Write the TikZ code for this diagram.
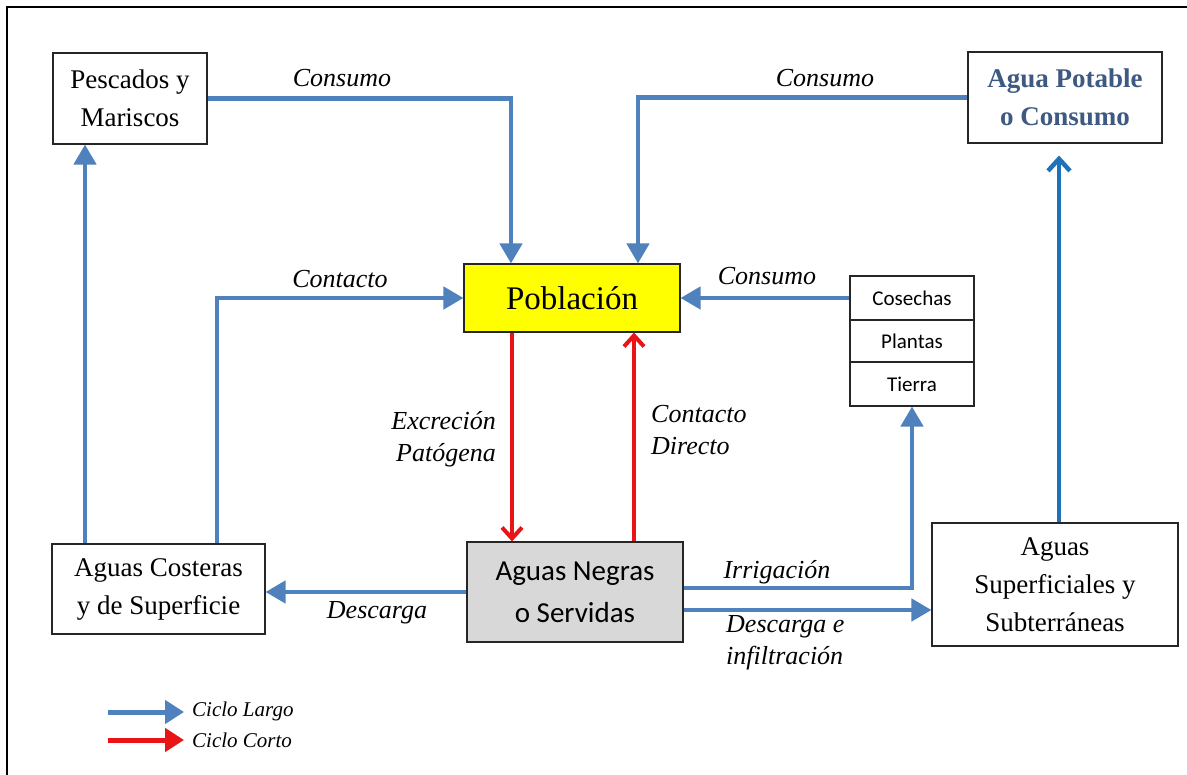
\documentclass[tikz,border=0pt]{standalone}
\usepackage{fontspec}
\setmainfont{Liberation Serif}
\newfontfamily\calib{Carlito}
\usetikzlibrary{arrows.meta}
\definecolor{lblue}{RGB}{79,129,189}
\definecolor{dblue}{RGB}{31,114,184}
\definecolor{cred}{RGB}{232,20,22}
\definecolor{ptxt}{RGB}{63,90,130}
\definecolor{ngray}{RGB}{216,216,216}
\definecolor{pyel}{RGB}{255,255,0}
\begin{document}
\begin{tikzpicture}[x=1pt,y=-1pt,
  box/.style={draw=black!85, line width=1.1pt, fill=white, align=center, inner sep=0pt,
              font=\fontsize{27}{38}\selectfont},
  cbox/.style={box, font=\calib\fontsize{21}{24}\selectfont},
  lab/.style={inner sep=0pt, font=\fontsize{26}{32}\selectfont\itshape},
  leglab/.style={inner sep=0pt, anchor=west, font=\fontsize{21}{24}\selectfont\itshape},
  bl/.style={draw=lblue, line width=4.5pt, -{Triangle[width=22pt,length=20pt]}},
  dbl/.style={draw=dblue, line width=4.5pt, -{Straight Barb[width=22pt,length=12pt]}},
  rd/.style={draw=cred, line width=4pt, -{Straight Barb[width=20pt,length=11pt]}},
  legb/.style={draw=lblue, line width=5pt, -{Triangle[width=23pt,length=19pt]}},
  legr/.style={draw=cred, line width=5pt, -{Triangle[width=23pt,length=19pt]}}
]
\useasboundingbox (0,0) rectangle (1187,775);
\fill[white] (0,0) rectangle (1187,775);
\draw[line width=1.3pt] (7,775) -- (7,7) -- (1187,7);

% nodes
\node[box, minimum width=154pt, minimum height=91pt] (pesc) at (130,98.5) {Pescados y\\Mariscos};
\node[box, minimum width=194pt, minimum height=91pt, font=\fontsize{27}{38}\selectfont\bfseries, text=ptxt] (agua) at (1065,97.5) {Agua Potable\\o Consumo};
\node[box, fill=pyel, minimum width=216pt, minimum height=68pt, font=\fontsize{33}{38}\selectfont] (pob) at (572,298) {Población};
\node[cbox, minimum width=124pt, minimum height=44pt] (cos) at (912,298) {Cosechas};
\node[cbox, minimum width=124pt, minimum height=42pt] (pla) at (912,341) {Plantas};
\node[cbox, minimum width=124pt, minimum height=44pt] (tie) at (912,384) {Tierra};
\node[box, minimum width=213pt, minimum height=90pt] (cost) at (158.5,589) {Aguas Costeras\\y de Superficie};
\node[box, fill=ngray, minimum width=216pt, minimum height=100pt, font=\calib\fontsize{29}{42}\selectfont] (neg) at (575,592) {Aguas Negras\\o Servidas};
\node[box, minimum width=246pt, minimum height=123pt] (sup) at (1055,584.5) {Aguas\\Superficiales y\\Subterráneas};

% connectors
\draw[bl] (pesc.east) -| ([xshift=-61pt]pob.north);
\draw[bl] (agua.west) -| ([xshift=66pt]pob.north);
\draw[bl] ([xshift=58.5pt]cost.north) |- (pob.west);
\draw[bl] ([xshift=-73.5pt]cost.north) -- ([xshift=-73.5pt]cost.north |- pesc.south);
\draw[bl] (cos.west) -- (pob.east);
\draw[rd] ([xshift=-60pt]pob.south) -- ([xshift=-60pt]pob.south |- neg.north);
\draw[rd] ([xshift=62pt]pob.south |- neg.north) -- ([xshift=62pt]pob.south);
\draw[bl] (neg.west) -- (neg.west -| cost.east);
\draw[bl] ([yshift=4pt]neg.east) -| (tie.south);
\draw[bl] ([yshift=-18pt]neg.east) -- ([yshift=-18pt]neg.east -| sup.west);
\draw[dbl] ([xshift=4pt]sup.north) -- ([xshift=-6pt,yshift=-12pt]agua.south);

% labels
\node[lab] (l1) at (342,78) {Consumo};
\node[lab] (l2) at (825,78) {Consumo};
\node[lab] (l3) at (340,279) {Contacto};
\node[lab] (l4) at (767,276) {Consumo};
\node[lab, anchor=east, align=right] (l5) at (496,439) {Excreción\\Patógena};
\node[lab, anchor=west, align=left] (l6) at (651,430) {Contacto\\Directo};
\node[lab] (l7) at (377,613) {Descarga};
\node[lab] (l8) at (777,572) {Irrigación};
\node[lab, anchor=west, align=left] (l9) at (726,643) {Descarga e\\infiltración};

% legend
\coordinate (la) at (108,712);
\coordinate (lb) at (184,712);
\coordinate (lc) at (108,740);
\coordinate (ld) at (184,740);
\draw[legb] (la) -- (lb);
\draw[legr] (lc) -- (ld);
\node[leglab] (g1) at (192,711) {Ciclo Largo};
\node[leglab] (g2) at (192,740) {Ciclo Corto};
\end{tikzpicture}
\end{document}
